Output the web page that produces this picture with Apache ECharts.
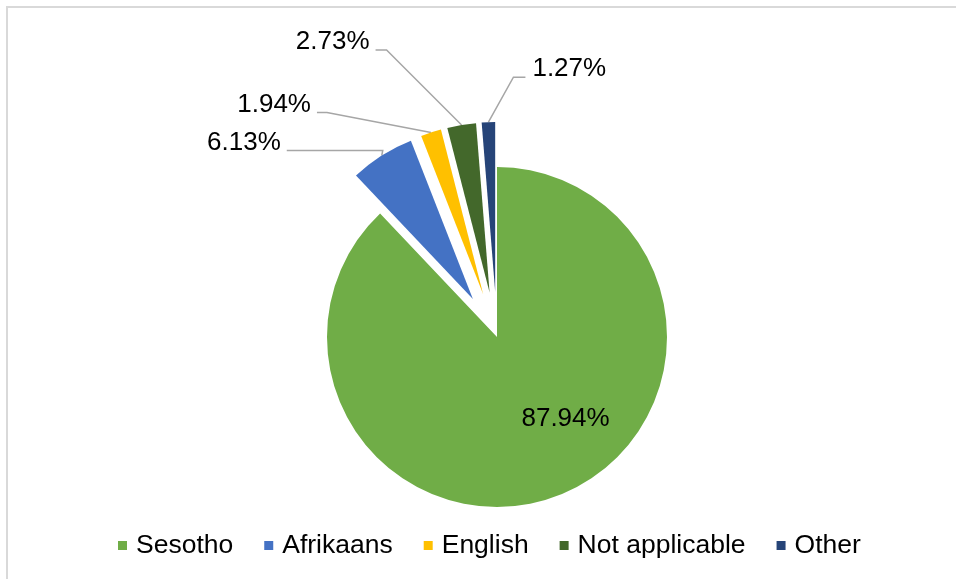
<!DOCTYPE html>
<html>
<head>
<meta charset="utf-8">
<script src="https://cdn.jsdelivr.net/npm/echarts@6/dist/echarts.min.js"></script>
<style>
html, body { margin: 0; padding: 0; background: #fff; }
#chart { width: 956px; height: 579px; }
</style>
</head>
<body>
<div id="chart"></div>
<script>
var categories = ["Sesotho", "Afrikaans", "English", "Not applicable", "Other"];
var shares = [87.94, 6.13, 1.94, 2.73, 1.27];
var colors = ["#70AD47", "#4472C4", "#FFC000", "#43682B", "#264478"];
var exploded = [false, true, true, true, true];

// leader line bends, relative to where the line leaves the slice: [dx, dy, horizontal run]
var leaders = [null, [1, -5, -96], [-104, -20, -10], [-75, -75, -11], [25, -45, 12]];

var pieRadius = 170;
var explodeBy = 45;

var pieData = [];
var labelData = [];
for (var i = 0; i < categories.length; i++) {
  pieData.push({
    name: categories[i],
    value: shares[i],
    selected: exploded[i],
    itemStyle: { color: colors[i] },
    label: { show: i === 0 }
  });
  labelData.push({
    name: categories[i],
    value: shares[i],
    label: { show: i !== 0 },
    labelLine: { show: i !== 0 }
  });
}

var myChart = echarts.init(document.getElementById("chart"));
myChart.setOption({
  animation: false,
  textStyle: { fontFamily: "Liberation Sans, Arial, sans-serif" },
  graphic: [
    {
      type: "rect",
      silent: true,
      shape: { x: 7, y: 7, width: 1000, height: 1000 },
      style: { fill: "none", stroke: "#d9d9d9", lineWidth: 2 }
    }
  ],
  legend: {
    left: 113,
    bottom: 15,
    icon: "rect",
    itemWidth: 9,
    itemHeight: 9,
    itemGap: 31,
    textStyle: { fontSize: 26.5, color: "#000", padding: [0, 0, 0, 4] },
    data: categories
  },
  series: [
    {
      // the slices; the small ones are pulled out
      type: "pie",
      center: [497, 337],
      radius: pieRadius,
      startAngle: 90,
      clockwise: true,
      selectedMode: "multiple",
      selectedOffset: explodeBy,
      emphasis: { disabled: true },
      label: {
        position: "inside",
        formatter: "{c}%",
        fontSize: 26,
        color: "#000"
      },
      labelLine: { show: false },
      labelLayout: { dx: 36 },
      data: pieData
    },
    {
      // invisible twin reaching the outer edge of the pulled-out slices, carries the callouts
      type: "pie",
      silent: true,
      legendHoverLink: false,
      center: [497, 337],
      radius: pieRadius + explodeBy,
      startAngle: 90,
      clockwise: true,
      avoidLabelOverlap: false,
      emphasis: { disabled: true },
      itemStyle: { color: "rgba(0,0,0,0)" },
      label: {
        position: "outside",
        formatter: "{c}%",
        fontSize: 26,
        color: "#000"
      },
      labelLine: {
        length: 10,
        length2: 10,
        lineStyle: { color: "#a6a6a6", width: 1.5 }
      },
      labelLayout: function (params) {
        var k = params.dataIndex;
        var b = leaders[k];
        if (!b) {
          return {};
        }
        var p0 = params.labelLinePoints[0];
        var elbow = [p0[0] + b[0], p0[1] + b[1]];
        var end = [elbow[0] + b[2], elbow[1]];
        var right = b[2] > 0;
        return {
          x: end[0] + (right ? 7 : -6),
          y: end[1] - 8,
          align: right ? "left" : "right",
          verticalAlign: "middle",
          labelLinePoints: [p0, elbow, end]
        };
      },
      data: labelData
    }
  ]
});
</script>
</body>
</html>
